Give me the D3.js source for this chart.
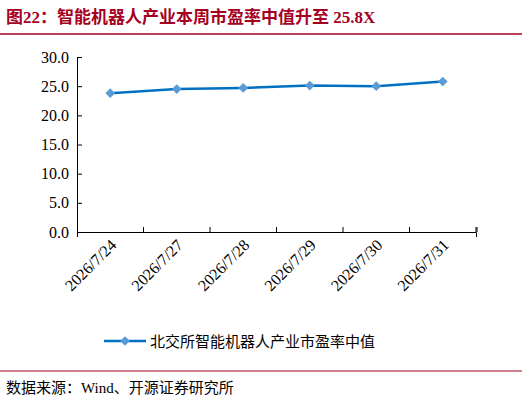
<!DOCTYPE html>
<html><head><meta charset="utf-8">
<script src="https://cdn.jsdelivr.net/npm/d3@7"></script>
<style>body{margin:0;background:#fff}svg{display:block}</style>
</head><body>
<svg id="c" width="522" height="405"></svg>
<script>
const categories = ["2026/7/24","2026/7/27","2026/7/28","2026/7/29","2026/7/30","2026/7/31"];
const values = [23.8, 24.5, 24.7, 25.1, 25.0, 25.8];
const yTicks = [0, 5, 10, 15, 20, 25, 30];
const seriesName = "北交所智能机器人产业市盈率中值";

const svg = d3.select("#c");
const serif = "'Times New Roman','Liberation Serif','Noto Sans CJK SC',serif";
const titleColor = "#a50021";

svg.append("text").attr("x", 6).attr("y", 23).attr("fill", titleColor)
  .attr("font-family", serif).attr("font-weight", "bold").attr("font-size", 17)
  .text("图22：智能机器人产业本周市盈率中值升至 25.8X");
svg.append("line").attr("x1", 0).attr("x2", 522).attr("y1", 34).attr("y2", 34)
  .attr("stroke", titleColor).attr("stroke-width", 1.5);

const x = d3.scaleBand().domain(categories).range([77, 476]);
const y = d3.scaleLinear().domain([0, 30]).range([232, 57]);

const gx = svg.append("g").attr("transform", "translate(0,232)")
  .call(d3.axisBottom(x).tickSizeOuter(0).tickSize(5).tickSizeInner(-5));
gx.selectAll(".tick line").attr("transform", `translate(${x.bandwidth()/2},0)`);
gx.append("line").attr("x1", 477).attr("x2", 477).attr("y1", 0).attr("y2", -5).attr("stroke", "#000");
gx.selectAll("text").attr("font-family", serif).attr("font-size", 16).attr("fill", "#000")
  .attr("text-anchor", "end").attr("dy", 0).attr("transform", "translate(5,12) rotate(-45)");

const gy = svg.append("g").attr("transform", "translate(77,0)")
  .call(d3.axisLeft(y).tickValues(yTicks).tickFormat(d3.format(".1f")).tickSize(-5).tickSizeOuter(0));
gy.selectAll("text").attr("font-family", serif).attr("font-size", 16).attr("fill", "#000").attr("x", -8);
svg.selectAll(".domain").attr("stroke", "#000");

const cx = d => x(d) + x.bandwidth() / 2;
const line = d3.line().x((d, i) => cx(categories[i])).y(d => y(d));
svg.append("path").datum(values).attr("d", line).attr("fill", "none")
  .attr("stroke", "#0070c0").attr("stroke-width", 2.5);
const diamond = d3.symbol().type(d3.symbolDiamond2).size(60);
svg.selectAll(".pt").data(values).join("path").attr("d", diamond)
  .attr("transform", (d, i) => `translate(${cx(categories[i])},${y(d)})`)
  .attr("fill", "#5b9bd5");

// legend
svg.append("line").attr("x1", 104).attr("x2", 146).attr("y1", 341).attr("y2", 341)
  .attr("stroke", "#0070c0").attr("stroke-width", 2.5);
svg.append("path").attr("d", diamond).attr("transform", "translate(125,341)").attr("fill", "#5b9bd5");
svg.append("text").attr("x", 150).attr("y", 347).attr("font-family", serif).attr("font-size", 15)
  .text(seriesName);

svg.append("line").attr("x1", 0).attr("x2", 522).attr("y1", 371).attr("y2", 371)
  .attr("stroke", titleColor).attr("stroke-width", 1);
svg.append("text").attr("x", 6).attr("y", 393).attr("font-family", serif).attr("font-size", 15)
  .text("数据来源：Wind、开源证券研究所");
</script>
</body></html>
